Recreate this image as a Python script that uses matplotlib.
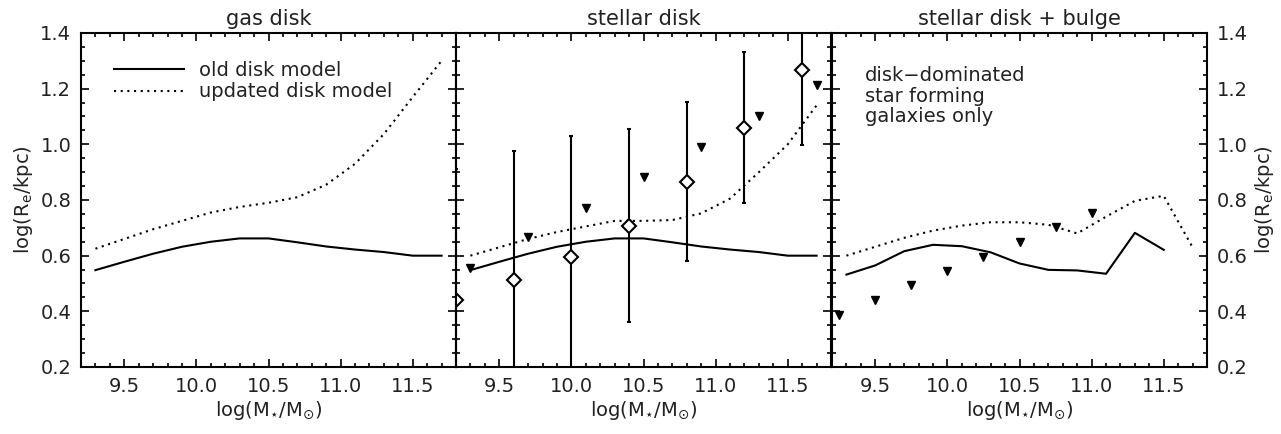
import numpy as np
import matplotlib
matplotlib.use('Agg')
from matplotlib import pyplot as plt
from matplotlib.ticker import MultipleLocator, FormatStrFormatter

plt.rcParams['font.family'] = 'DejaVu Sans'
plt.rcParams['mathtext.default'] = 'regular'

# model curves (x in log M*)
mass = [9.3, 9.5, 9.7, 9.9, 10.1, 10.3, 10.5, 10.7, 10.9, 11.1, 11.3, 11.5, 11.7]
gas_old = [0.548, 0.578, 0.607, 0.632, 0.650, 0.662, 0.662, 0.648, 0.633, 0.622, 0.613, 0.600, 0.600]
gas_new = [0.625, 0.660, 0.695, 0.725, 0.755, 0.775, 0.790, 0.810, 0.855, 0.930, 1.037, 1.170, 1.300]
star_old = [0.548, 0.578, 0.607, 0.632, 0.650, 0.662, 0.662, 0.648, 0.633, 0.622, 0.613, 0.600, 0.600]
star_new = [0.600, 0.630, 0.660, 0.685, 0.705, 0.725, 0.725, 0.728, 0.752, 0.805, 0.900, 1.000, 1.140]
bulge_old = [0.532, 0.565, 0.616, 0.639, 0.634, 0.612, 0.572, 0.549, 0.547, 0.535, 0.682, 0.621]
bulge_new = [0.600, 0.632, 0.664, 0.690, 0.708, 0.720, 0.720, 0.711, 0.680, 0.740, 0.797, 0.815, 0.630]

# observed points, stellar disk panel
obs_m = [9.2, 9.6, 10.0, 10.4, 10.8, 11.2, 11.6]
obs_r = [0.44, 0.513, 0.597, 0.705, 0.866, 1.06, 1.267]
obs_lo = [0.0, 0.0, 0.0, 0.361, 0.582, 0.788, 0.997]
obs_hi = [0.91, 0.977, 1.03, 1.054, 1.153, 1.333, 1.60]
tri_m = [9.3, 9.7, 10.1, 10.5, 10.9, 11.3, 11.7]
tri_r = [0.555, 0.666, 0.773, 0.884, 0.992, 1.102, 1.212]

# points, disk + bulge panel
tri2_m = [9.25, 9.5, 9.75, 10.0, 10.25, 10.5, 10.75, 11.0]
tri2_r = [0.388, 0.439, 0.493, 0.544, 0.597, 0.648, 0.702, 0.754]

titles = ['gas disk', 'stellar disk', 'stellar disk + bulge']

fig = plt.figure(figsize=(12.81, 4.34), dpi=100)
W, H = 1281., 434.
lefts = [81, 456, 832]
axes = []
for i, l in enumerate(lefts):
    ax = fig.add_axes([l / W, 1 - 367 / H, 375 / W, 334 / H])
    ax.set_xlim(9.2, 11.8)
    ax.set_ylim(0.2, 1.4)
    ax.xaxis.set_major_locator(MultipleLocator(0.5))
    ax.xaxis.set_minor_locator(MultipleLocator(0.1))
    ax.yaxis.set_major_locator(MultipleLocator(0.2))
    ax.yaxis.set_minor_locator(MultipleLocator(0.05))
    ax.xaxis.set_major_formatter(FormatStrFormatter('%.1f'))
    ax.yaxis.set_major_formatter(FormatStrFormatter('%.1f'))
    ax.tick_params(which='both', direction='in', top=True, right=True,
                   width=1.2, labelsize=14, colors='k', labelcolor='#222222')
    ax.tick_params(which='major', length=5.5, pad=7)
    ax.tick_params(which='minor', length=2.6)
    ax.tick_params(axis='y', labelleft=(i == 0), labelright=(i == 2))
    for s in ax.spines.values():
        s.set_linewidth(1.5)
    ax.set_title(titles[i], fontsize=15, color='#222222', pad=6)
    ax.set_xlabel(r'log(M$_{\star}$/M$_{\odot}$)', fontsize=14, color='#222222', labelpad=2)
    axes.append(ax)

ax1, ax2, ax3 = axes
dots = (0, (1, 2.2))

ax1.plot(mass, gas_old, 'k-', lw=1.5, label='old disk model')
ax1.plot(mass, gas_new, 'k', ls=dots, lw=1.5, label='updated disk model')
ax1.legend(loc='upper left', bbox_to_anchor=(0.04, 0.97), frameon=False, fontsize=14,
           handlelength=3.6, handletextpad=0.8, labelspacing=0.15,
           labelcolor='#222222')
ax1.set_ylabel(r'log(R$_e$/kpc)', fontsize=14, color='#222222')

ax2.plot(mass, star_old, 'k-', lw=1.5)
ax2.plot(mass, star_new, 'k', ls=dots, lw=1.5)
obs_m = np.array(obs_m)
obs_r = np.array(obs_r)
yerr = [obs_r - np.array(obs_lo), np.array(obs_hi) - obs_r]
ax2.errorbar(obs_m, obs_r, yerr=yerr, fmt='D', mfc='white', mec='k', mew=1.5,
             ms=7, ecolor='k', elinewidth=1.5, capsize=1.5, capthick=1.5)
ax2.plot(tri_m, tri_r, 'kv', ms=6)

ax3.plot(mass[:len(bulge_old)], bulge_old, 'k-', lw=1.5)
ax3.plot(mass, bulge_new, 'k', ls=dots, lw=1.5)
ax3.plot(tri2_m, tri2_r, 'kv', ms=6)
ax3.text(0.088, 0.9, 'disk\u2212dominated\nstar forming\ngalaxies only',
         transform=ax3.transAxes, fontsize=14, va='top', ha='left',
         color='#222222', linespacing=1.1)
ax3.yaxis.set_label_position('right')
ax3.set_ylabel(r'log(R$_e$/kpc)', fontsize=14, color='#222222')

fig.savefig('out.png', dpi=100)
